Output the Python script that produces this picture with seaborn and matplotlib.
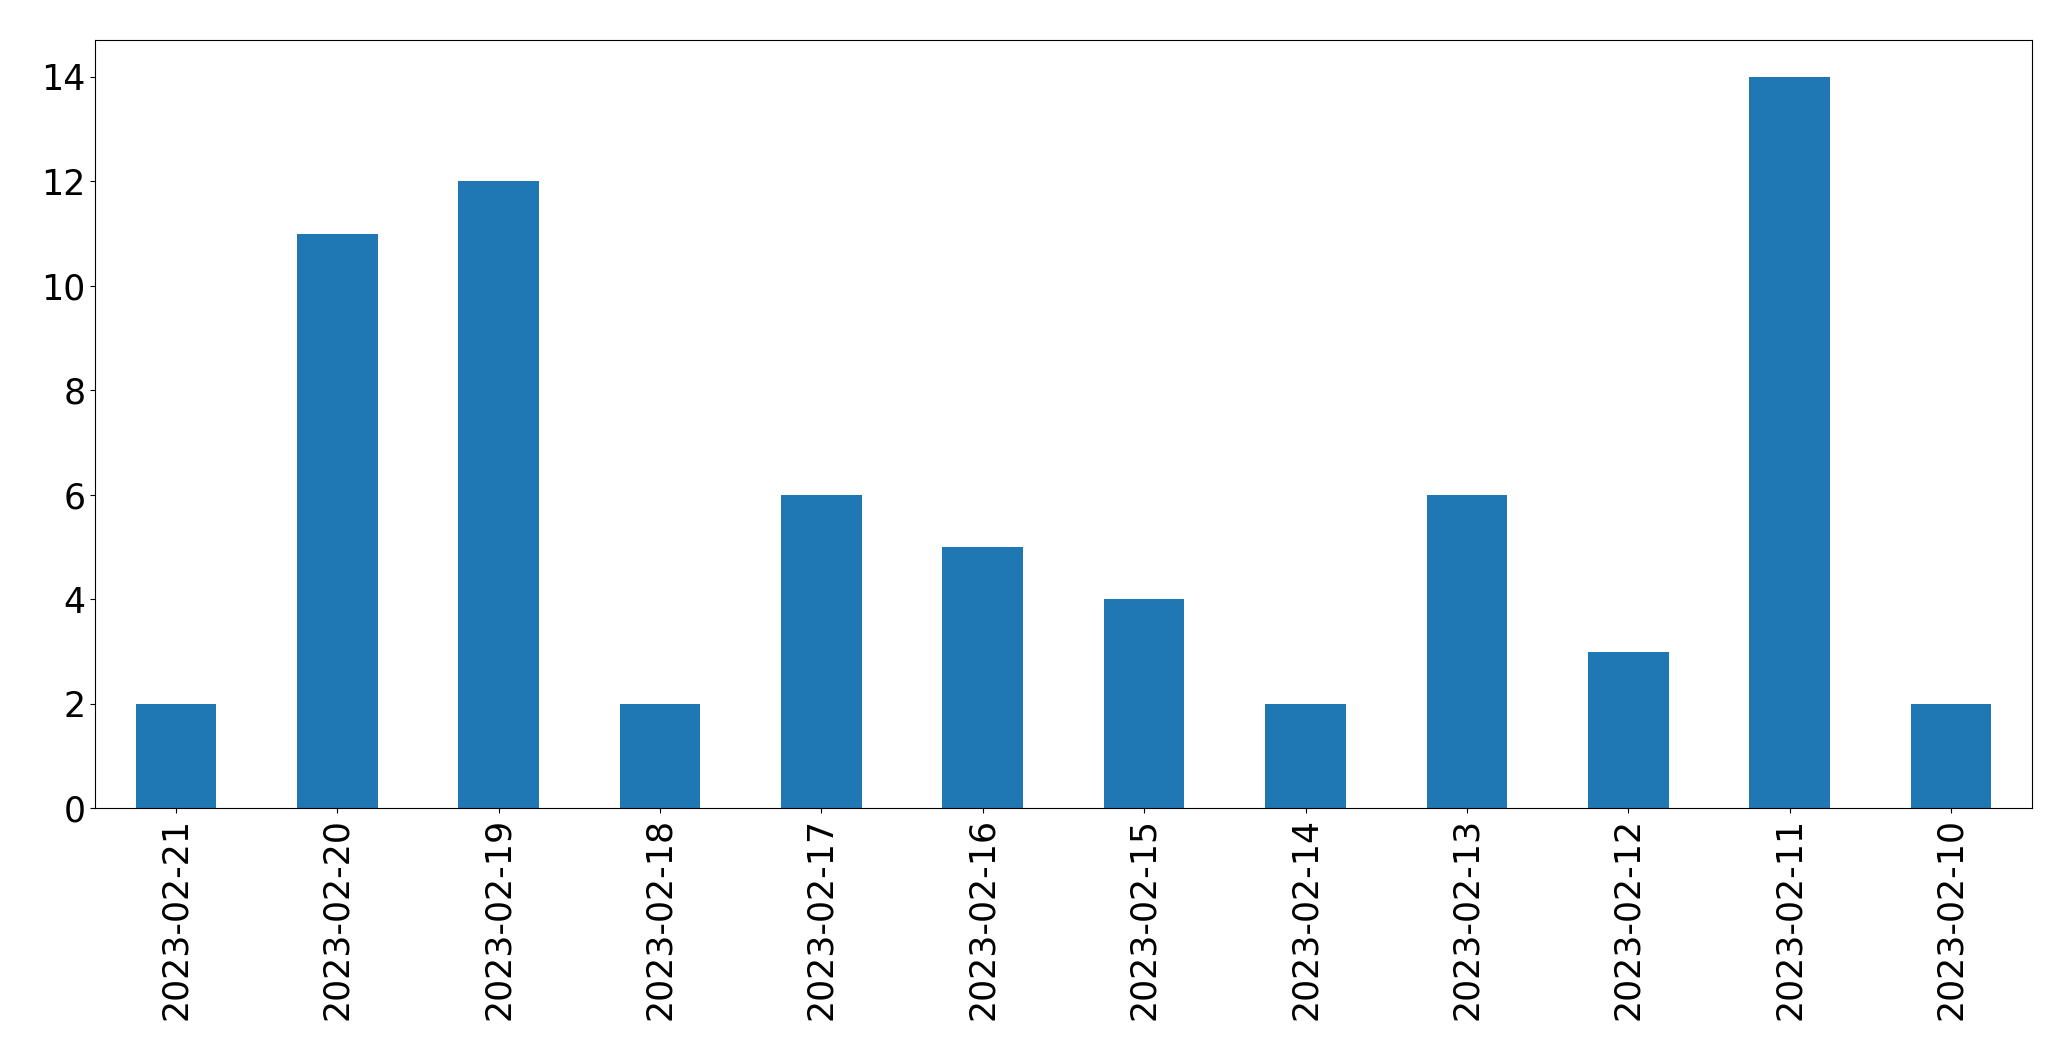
import matplotlib
matplotlib.use('Agg')
import matplotlib.pyplot as plt
import seaborn as sns
import pandas as pd

dates = ['2023-02-21', '2023-02-20', '2023-02-19', '2023-02-18', '2023-02-17',
         '2023-02-16', '2023-02-15', '2023-02-14', '2023-02-13', '2023-02-12',
         '2023-02-11', '2023-02-10']
counts = [2, 11, 12, 2, 6, 5, 4, 2, 6, 3, 14, 2]

df = pd.DataFrame({'date': dates, 'count': counts})

plt.rcParams['font.size'] = 25
fig, ax = plt.subplots(figsize=(20.71, 10.61), dpi=100)
sns.barplot(data=df, x='date', y='count', color='#1f77b4', saturation=1,
            width=0.5, linewidth=0, ax=ax)
ax.set_xlabel('')
ax.set_ylabel('')
ax.set_xlim(-0.5, len(dates) - 0.5)
ax.tick_params(axis='both', labelsize=25)
plt.setp(ax.get_xticklabels(), rotation=90)
fig.subplots_adjust(left=0.046, right=0.981, top=0.962, bottom=0.238)
fig.savefig('out.png', dpi=100)
